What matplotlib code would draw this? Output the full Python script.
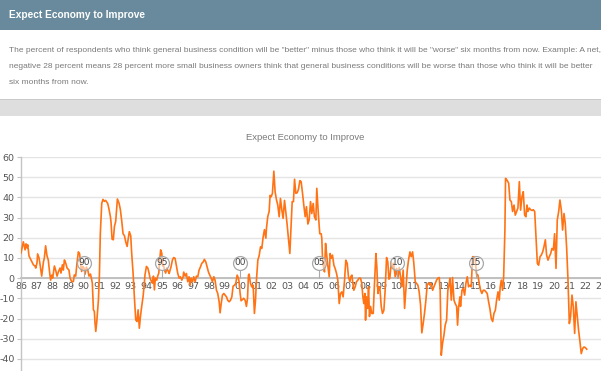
"""Expect Economy to Improve - NFIB style panel with header, note and line chart."""
import matplotlib

matplotlib.use("Agg")
import matplotlib.pyplot as plt
from matplotlib.font_manager import fontManager
from matplotlib.patches import Rectangle

plt.rcParams["axes.unicode_minus"] = False

# survey readings (decimal year, net percent)
dates = [
    1986.00, 1986.15, 1986.26, 1986.32, 1986.38, 1986.43, 1986.51, 1986.64, 1986.79, 1986.89,
    1986.94, 1987.02, 1987.06, 1987.15, 1987.23, 1987.32, 1987.43, 1987.49, 1987.57, 1987.66,
    1987.74, 1987.83, 1987.89, 1987.96, 1988.02, 1988.13, 1988.21, 1988.30, 1988.38, 1988.49,
    1988.55, 1988.64, 1988.70, 1988.77, 1988.85, 1988.94, 1989.06, 1989.13, 1989.23, 1989.34,
    1989.40, 1989.49, 1989.57, 1989.66, 1989.74, 1989.81, 1989.87, 1989.94, 1990.02, 1990.09,
    1990.17, 1990.26, 1990.34, 1990.43, 1990.49, 1990.55, 1990.62, 1990.68, 1990.72, 1990.77,
    1990.83, 1990.94, 1991.00, 1991.06, 1991.15, 1991.23, 1991.32, 1991.40, 1991.49, 1991.53,
    1991.60, 1991.70, 1991.74, 1991.81, 1991.89, 1991.96, 1992.04, 1992.15, 1992.26, 1992.34,
    1992.43, 1992.51, 1992.60, 1992.68, 1992.77, 1992.83, 1992.91, 1993.00, 1993.06, 1993.15,
    1993.23, 1993.32, 1993.40, 1993.47, 1993.55, 1993.62, 1993.70, 1993.79, 1993.85, 1993.91,
    1994.00, 1994.09, 1994.17, 1994.23, 1994.32, 1994.38, 1994.45, 1994.51, 1994.57, 1994.66,
    1994.72, 1994.79, 1994.85, 1994.91, 1994.98, 1995.04, 1995.09, 1995.15, 1995.23, 1995.30,
    1995.40, 1995.45, 1995.57, 1995.66, 1995.74, 1995.83, 1995.91, 1996.00, 1996.09, 1996.17,
    1996.26, 1996.34, 1996.38, 1996.47, 1996.55, 1996.64, 1996.72, 1996.79, 1996.85, 1996.94,
    1997.02, 1997.11, 1997.19, 1997.28, 1997.36, 1997.45, 1997.53, 1997.62, 1997.70, 1997.79,
    1997.87, 1997.96, 1998.04, 1998.13, 1998.21, 1998.30, 1998.38, 1998.47, 1998.55, 1998.64,
    1998.70, 1998.77, 1998.85, 1998.94, 1999.02, 1999.11, 1999.19, 1999.28, 1999.36, 1999.45,
    1999.53, 1999.62, 1999.70, 1999.79, 1999.87, 1999.91, 1999.98, 2000.04, 2000.13, 2000.21,
    2000.30, 2000.38, 2000.45, 2000.51, 2000.55, 2000.64, 2000.72, 2000.81, 2000.89, 2000.96,
    2001.02, 2001.11, 2001.19, 2001.28, 2001.36, 2001.45, 2001.53, 2001.62, 2001.66, 2001.74,
    2001.83, 2001.89, 2001.96, 2002.04, 2002.13, 2002.21, 2002.30, 2002.38, 2002.47, 2002.55,
    2002.64, 2002.72, 2002.81, 2002.89, 2002.98, 2003.06, 2003.15, 2003.23, 2003.30, 2003.38,
    2003.45, 2003.53, 2003.62, 2003.70, 2003.79, 2003.87, 2003.96, 2004.04, 2004.13, 2004.21,
    2004.30, 2004.38, 2004.47, 2004.55, 2004.64, 2004.72, 2004.81, 2004.87, 2004.98, 2005.06,
    2005.15, 2005.19, 2005.23, 2005.30, 2005.36, 2005.43, 2005.49, 2005.57, 2005.66, 2005.72,
    2005.79, 2005.87, 2005.96, 2006.04, 2006.13, 2006.21, 2006.30, 2006.38, 2006.47, 2006.55,
    2006.64, 2006.72, 2006.81, 2006.89, 2006.98, 2007.04, 2007.11, 2007.17, 2007.23, 2007.32,
    2007.40, 2007.49, 2007.57, 2007.66, 2007.74, 2007.81, 2007.87, 2007.94, 2007.98, 2008.04,
    2008.11, 2008.17, 2008.23, 2008.30, 2008.38, 2008.47, 2008.55, 2008.64, 2008.70, 2008.77,
    2008.83, 2008.89, 2008.98, 2009.06, 2009.15, 2009.23, 2009.32, 2009.40, 2009.47, 2009.53,
    2009.62, 2009.70, 2009.77, 2009.87, 2009.96, 2010.04, 2010.13, 2010.21, 2010.30, 2010.38,
    2010.47, 2010.55, 2010.64, 2010.72, 2010.81, 2010.89, 2010.98, 2011.06, 2011.15, 2011.23,
    2011.32, 2011.40, 2011.49, 2011.57, 2011.66, 2011.74, 2011.83, 2011.91, 2012.00, 2012.09,
    2012.17, 2012.26, 2012.34, 2012.43, 2012.51, 2012.60, 2012.68, 2012.74, 2012.81, 2012.89,
    2012.98, 2013.06, 2013.15, 2013.23, 2013.32, 2013.36, 2013.45, 2013.53, 2013.62, 2013.70,
    2013.79, 2013.85, 2013.91, 2014.00, 2014.04, 2014.13, 2014.21, 2014.30, 2014.38, 2014.47,
    2014.55, 2014.64, 2014.72, 2014.81, 2014.89, 2014.98, 2015.06, 2015.15, 2015.23, 2015.32,
    2015.40, 2015.49, 2015.57, 2015.66, 2015.74, 2015.83, 2015.91, 2016.00, 2016.09, 2016.17,
    2016.26, 2016.34, 2016.43, 2016.51, 2016.57, 2016.64, 2016.72, 2016.79, 2016.87, 2016.91,
    2017.00, 2017.11, 2017.19, 2017.28, 2017.36, 2017.45, 2017.53, 2017.62, 2017.70, 2017.79,
    2017.87, 2017.96, 2018.04, 2018.13, 2018.21, 2018.28, 2018.34, 2018.43, 2018.51, 2018.60,
    2018.68, 2018.77, 2018.85, 2018.94, 2019.02, 2019.11, 2019.19, 2019.28, 2019.36, 2019.45,
    2019.53, 2019.62, 2019.70, 2019.79, 2019.87, 2019.96, 2020.04, 2020.13, 2020.21, 2020.30,
    2020.38, 2020.47, 2020.55, 2020.64, 2020.72, 2020.81, 2020.89, 2020.98, 2021.06, 2021.15,
    2021.23, 2021.32, 2021.40, 2021.49, 2021.57, 2021.66, 2021.74, 2021.83, 2021.91, 2022.00,
    2022.09,
]
values = [
    12.4, 18.0, 14.0, 17.0, 15.0, 16.5, 11.0, 9.0, 6.6, 6.0,
    5.0, 7.5, 12.0, 10.0, 6.0, 1.0, 8.0, 10.0, 16.0, 11.0,
    9.0, 2.5, -1.0, 1.5, 0.0, 6.0, 4.0, 1.0, 3.0, 5.0,
    2.5, 6.6, 4.0, 9.0, 7.5, 5.0, 4.0, 0.0, -1.7, -1.7,
    1.6, 1.0, 7.4, 13.0, 12.0, 6.6, 3.3, 5.8, 5.0, 2.0,
    5.5, 4.0, 1.0, 2.0, 0.0, -2.5, -15.7, -16.5, -22.0, -26.4,
    -22.0, -10.7, 1.0, 22.0, 37.0, 39.0, 38.0, 38.5, 37.5, 37.0,
    34.7, 30.6, 28.0, 19.3, 19.0, 25.6, 28.0, 39.2, 37.0, 33.9,
    28.0, 22.0, 21.0, 18.0, 15.7, 19.0, 23.0, 21.0, 12.4, 2.5,
    -9.0, -20.7, -21.5, -15.7, -24.8, -19.0, -14.0, -9.0, -4.0, 1.6,
    5.8, 5.0, 2.5, 0.0, -1.6, -2.5, 1.0, -5.8, 0.0, -1.0,
    1.0, 2.5, 9.0, 14.0, 12.4, 6.0, 6.6, 4.0, 2.5, 5.0,
    3.3, 2.3, 5.6, 9.0, 10.2, 9.8, 6.4, 2.3, 0.0, 0.7,
    -1.0, 0.7, 3.0, 1.0, 2.3, -1.8, 0.7, -3.5, 0.0, -1.8,
    0.7, -1.8, 1.0, 0.7, 4.0, 5.6, 7.3, 8.0, 9.3, 8.0,
    5.6, 3.0, 1.5, 0.0, -1.8, 0.7, -1.0, -6.0, -7.6, -11.7,
    -17.2, -12.7, -8.4, -7.6, -8.4, -9.3, -11.0, -11.7, -11.0, -9.3,
    -4.0, -3.5, -2.6, 1.5, 0.0, -1.8, -7.6, -11.2, -10.6, -10.0,
    -11.0, -14.0, -10.0, 1.5, 2.0, -2.6, -4.3, -3.5, -17.5, -10.9,
    -1.0, 9.0, 11.0, 15.5, 14.7, 20.5, 24.0, 19.8, 24.8, 30.4,
    33.0, 41.0, 40.3, 42.0, 53.0, 42.8, 38.7, 36.2, 30.4, 39.5,
    33.7, 29.6, 38.5, 33.0, 26.3, 19.7, 12.2, 25.5, 37.9, 37.9,
    49.0, 42.0, 42.3, 44.0, 48.3, 47.8, 42.0, 36.2, 30.4, 35.4,
    26.8, 28.8, 37.9, 32.0, 37.0, 30.4, 28.8, 44.5, 30.4, 22.0,
    22.0, 19.7, 10.6, 5.6, 3.1, 17.2, 12.2, 6.4, 0.7, 12.2,
    9.8, 11.4, 6.4, 4.8, 2.3, -1.0, -12.6, -7.6, -6.8, -9.3,
    -1.0, 8.9, 7.3, 0.7, -1.8, 0.7, 1.5, -2.6, -6.0, -4.3,
    -1.8, -1.0, 0.0, 0.0, -2.6, -9.3, -12.6, -7.6, -20.8, -9.3,
    -15.0, -4.3, -19.0, -14.0, -17.5, -17.5, -2.6, 12.2, 5.6, -7.6,
    -4.3, -4.3, -14.0, -17.5, -15.9, -6.0, 10.2, 8.0, -0.5, 0.0,
    8.0, 4.8, 7.3, 0.7, 4.8, 0.0, 5.3, 0.7, -4.3, 4.0,
    -15.0, -6.0, 4.0, 8.9, 13.0, 10.6, 13.0, 7.3, -1.8, -2.6,
    -3.5, -6.8, -13.4, -27.1, -22.3, -17.5, -10.9, -3.5, -2.3, -3.5,
    -2.6, -6.0, -4.3, -2.6, -1.0, 0.0, 0.3, -6.0, -38.2, -32.4,
    -28.3, -23.3, -20.8, -6.0, -2.6, 0.0, -10.9, 0.3, -10.9, -12.6,
    -14.0, -23.3, -15.0, -9.3, -14.0, -6.0, -5.1, -8.4, -2.6, 0.7,
    -4.3, -3.5, -4.3, 10.6, 10.6, 9.0, 2.0, 1.5, -2.6, -6.0,
    -7.6, -6.0, -6.0, -6.8, -7.6, -11.7, -15.0, -20.0, -21.5, -17.5,
    -15.9, -10.9, -6.8, -10.9, -4.3, -1.0, -6.0, 0.7, 23.8, 49.4,
    48.6, 47.0, 38.7, 37.9, 33.0, 36.2, 31.2, 33.0, 34.7, 47.8,
    33.7, 40.3, 42.8, 31.2, 30.4, 36.2, 33.0, 34.7, 33.9, 33.5,
    33.9, 33.0, 20.5, 7.3, 6.4, 10.6, 11.4, 13.0, 15.5, 19.0,
    11.4, 8.9, 10.6, 12.2, 14.7, 13.9, 22.0, 4.8, 28.8, 33.0,
    38.7, 33.7, 23.8, 32.0, 27.1, 14.7, 0.0, -22.5, -19.0, -8.4,
    -14.0, -27.4, -11.7, -19.0, -25.8, -31.6, -37.4, -34.9, -34.1, -34.4,
    -35.2,
]

flag_years = [1990, 1995, 2000, 2005, 2010, 2015]
flag_labels = ["90", "95", "00", "05", "10", "15"]

y_ticks = [-40, -30, -20, -10, 0, 10, 20, 30, 40, 50, 60]
x_tick_years = list(range(1986, 2024))
x_tick_labels = [f"{y % 100:02d}" for y in x_tick_years]

HEADER = "Expect Economy to Improve"
CHART_TITLE = "Expect Economy to Improve"
NOTE = [
    'The percent of respondents who think general business condition will be "better" minus those who think '
    'it will be "worse" six months from now. Example: A net,',
    "negative 28 percent means 28 percent more small business owners think that general business conditions "
    "will be worse than those who think it will be better",
    "six months from now.",
]

# pick a narrow face if one is installed, else fall back to Liberation Sans
installed = {f.name for f in fontManager.ttflist}
narrow_faces = [n for n in ("Liberation Sans Narrow", "DejaVu Sans Condensed") if n in installed]
if narrow_faces:
    NARROW = dict(family=narrow_faces[0])
    note_size, head_size, title_size = 6.6, 8.5, 7.5
else:
    NARROW = dict(family="Liberation Sans")
    note_size, head_size, title_size = 6.05, 7.3, 6.8

W, H = 601, 371


def fx(px):
    return px / W


def fy(py):
    return 1 - py / H


fig = plt.figure(figsize=(W / 100, H / 100), dpi=100)

# header bar
fig.patches.append(Rectangle((0, fy(30)), 1, 30 / H, transform=fig.transFigure,
                             facecolor="#688a9c", edgecolor="none", zorder=0))
fig.text(fx(9), fy(15), HEADER, color="white", fontsize=head_size, fontweight="bold",
         va="center", ha="left", **NARROW)

for i, line in enumerate(NOTE):
    fig.text(fx(9), fy(50 + i * 16), line, color="#7a7a7a", fontsize=note_size,
             va="center", ha="left", **NARROW)

# grey separator band
fig.patches.append(Rectangle((0, fy(116)), 1, 17 / H, transform=fig.transFigure,
                             facecolor="#dedede", edgecolor="none", zorder=0))
fig.patches.append(Rectangle((0, fy(100)), 1, 1.2 / H, transform=fig.transFigure,
                             facecolor="#c9c9c9", edgecolor="none", zorder=1))

fig.text(fx(305), fy(137), CHART_TITLE, color="#7a7a7a", fontsize=title_size,
         va="center", ha="center", **NARROW)

ax = fig.add_axes([fx(21), 0, fx(580), (H - 157) / H])
ax.plot(dates, values, color="#ff7315", lw=1.2, zorder=3)

# five-year flags
stem_top = 4.1
ax.vlines(flag_years, 0, stem_top, color="#aaaaaa", lw=0.8, zorder=4)
ax.scatter(flag_years, [7.6] * len(flag_years), s=100, facecolor=(1, 1, 1, 0.55),
           edgecolor="#a8a8a8", linewidth=0.9, zorder=5)
for yr, lab in zip(flag_years, flag_labels):
    ax.text(yr, 7.6, lab, ha="center", va="center", fontsize=6.5, color="#444444", zorder=6)

ax.set_xlim(1986, 2023)
ax.set_ylim(-46, 60)
ax.set_yticks(y_ticks)
ax.set_xticks(x_tick_years)
ax.set_xticklabels(x_tick_labels)
ax.yaxis.grid(True, color="#e4e4e4", lw=1.0)
ax.set_axisbelow(True)

for side in ("top", "right"):
    ax.spines[side].set_visible(False)
ax.spines["left"].set_color("#c4c4c4")
ax.spines["left"].set_linewidth(1.0)
ax.spines["bottom"].set_position(("data", 0))
ax.spines["bottom"].set_color("#c0c0c0")
ax.spines["bottom"].set_linewidth(1.4)
ax.spines["bottom"].set_zorder(2)

ax.tick_params(axis="y", length=3, color="#c4c4c4", labelsize=6.8, labelcolor="#555555", pad=1.5)
ax.tick_params(axis="x", length=0, labelsize=6.8, labelcolor="#555555", pad=3)
ax.patch.set_alpha(0)

fig.savefig("out.png", dpi=100)
